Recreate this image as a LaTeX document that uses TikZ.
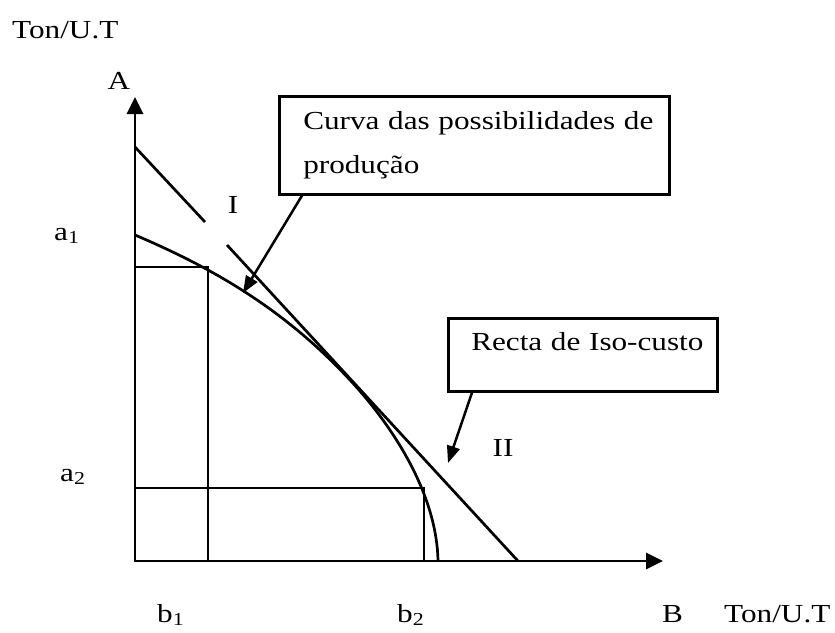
\documentclass[tikz,border=0pt]{standalone}
\usepackage{fontspec}
\setmainfont[FakeStretch=1.2]{Liberation Serif}
\usepackage{tikz}
\usetikzlibrary{arrows.meta}

\begin{document}
\begin{tikzpicture}[
      x=1pt, y=-1pt,
      every node/.style={font=\fontsize{26}{44}\selectfont, inner sep=0pt},
      axis/.style={line width=2.8pt, -{Triangle[length=17pt,width=16pt]}},
      curve/.style={line width=2.7pt},
      guide/.style={line width=2.6pt},
      infobox/.style={
        draw, line width=2.6pt, anchor=north west, align=left,
        inner xsep=24pt
      },
      arrow/.style={line width=2.5pt, -{Triangle[length=17pt,width=13pt]}}
    ]
    \useasboundingbox (0,0) rectangle (835,632);

    % axes
    \coordinate (O) at (135,561);
    \coordinate (ytop) at (135,97);
    \coordinate (xend) at (663,561);
    \draw[axis] (O) -- (ytop);
    \draw[axis] (O) -- (xend);

    % production points
    \coordinate (P1) at (208,267);
    \coordinate (P2) at (424,488);
    \draw[guide] (O) rectangle (P1);
    \draw[guide] (O) rectangle (P2);

    % curve of production possibilities
    \coordinate (ca) at (135,235);
    \coordinate (ct) at (350,380);
    \coordinate (cb) at (438,561);
    \draw[curve] (ca) .. controls (215,269) and (285,310) .. (ct)
                      .. controls (400,434) and (437,500) .. (cb);

    % iso-cost line (broken near I)
    \coordinate (isotop) at (135,147);
    \coordinate (gapA) at (205,222);
    \coordinate (gapB) at (227,245);
    \coordinate (isobot) at (518,561);
    \draw[curve] (isotop) -- (gapA);
    \draw[curve] (gapB) -- (isobot);

    % labels
    \node[anchor=base west] (unitA) at (12,38) {Ton/U.T};
    \node[anchor=base] (A) at (119,89) {A};
    \node[anchor=base west] (a1) at (54,240) {a\textsubscript{1}};
    \node[anchor=base west] (a2) at (60,481) {a\textsubscript{2}};
    \node[anchor=base west] (b1) at (157,622) {b\textsubscript{1}};
    \node[anchor=base west] (b2) at (397,622) {b\textsubscript{2}};
    \node[anchor=base west] (B) at (662,622) {B};
    \node[anchor=base west] (unitB) at (724,622) {Ton/U.T};
    \node[anchor=base] (I) at (233,213) {I};
    \node[anchor=base] (II) at (503,456) {II};

    % boxes
    \node[infobox, text width=342pt, minimum height=98pt] (curva) at (278,95)
      {\mbox{Curva das possibilidades de}\\produção};
    \node[infobox, text width=223pt, minimum height=73pt, inner xsep=23pt,
          text height=19pt, text depth=27pt] (recta) at (447,317)
      {\mbox{Recta de Iso-custo}};

    \coordinate (tipcurva) at (243,293);
    \coordinate (tiprecta) at (448,463);
    \draw[arrow] ([xshift=24pt]curva.south west) -- (tipcurva);
    \draw[arrow] ([xshift=25pt]recta.south west) -- (tiprecta);
  \end{tikzpicture}
\end{document}
